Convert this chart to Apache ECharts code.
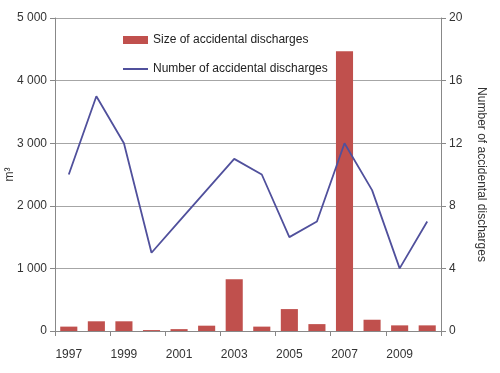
<!DOCTYPE html>
<html><head><meta charset="utf-8">
<script src="https://cdn.jsdelivr.net/npm/echarts@6/dist/echarts.min.js"></script>
<style>html,body{margin:0;padding:0;background:#fff}#c{width:500px;height:373px}</style>
</head><body><div id="c"></div>
<script>
const years = ['1997','1998','1999','2000','2001','2002','2003','2004','2005','2006','2007','2008','2009','2010'];
const sizeValues = [70,155,155,15,30,85,825,70,350,110,4470,180,90,90];
const countValues = [10,15,12,5,7,9,11,10,6,7,12,9,4,7];
const leftTicks = [0,1000,2000,3000,4000,5000];
const rightTicks = [0,4,8,12,16,20];

const chart = echarts.init(document.getElementById('c'));
const font = 'Liberation Sans, Arial, sans-serif';
chart.setOption({
  animation:false,
  textStyle:{fontFamily:font},
  grid:{left:55,right:59,top:18,bottom:42,containLabel:false,outerBoundsMode:'none'},
  legend:{
    orient:'vertical', left:118, top:29, itemWidth:25, itemHeight:8, itemGap:17,
    textStyle:{fontSize:12,color:'#222',fontFamily:font},
    data:[{name:'Size of accidental discharges',icon:'rect'},
          {name:'Number of accidental discharges',icon:'path://M0,0H100V8H0Z'}]
  },
  xAxis:{
    type:'category', data:years, boundaryGap:true,
    axisLine:{lineStyle:{color:'#888'}},
    axisTick:{show:true,length:5,lineStyle:{color:'#888'}},
    axisLabel:{interval:1,fontSize:12,color:'#333',margin:18}
  },
  yAxis:[{
    type:'value', min:0, max:5000, interval:1000,
    name:'m\u00B3', nameLocation:'middle', nameRotate:90, nameGap:39, nameMoveOverlap:false,
    nameTextStyle:{fontSize:12,color:'#333'},
    axisLine:{show:true,lineStyle:{color:'#888'}},
    axisTick:{show:true,length:5,lineStyle:{color:'#888'}},
    axisLabel:{fontSize:12,color:'#333',formatter:v=>String(v).replace(/\B(?=(\d{3})+(?!\d))/g,' ')},
    splitLine:{lineStyle:{color:'#a6a6a6'}}
  },{
    type:'value', min:0, max:20, interval:4, position:'right',
    name:'Number of accidental discharges', nameLocation:'middle', nameRotate:-90, nameGap:34, nameMoveOverlap:false,
    nameTextStyle:{fontSize:12,color:'#333'},
    axisLine:{show:true,lineStyle:{color:'#888'}},
    axisTick:{show:true,length:5,lineStyle:{color:'#888'}},
    axisLabel:{fontSize:12,color:'#333',margin:8},
    splitLine:{show:false}
  }],
  series:[{
    name:'Size of accidental discharges', type:'bar', data:sizeValues, yAxisIndex:0,
    barWidth:'62%', itemStyle:{color:'#C0504D'}
  },{
    name:'Number of accidental discharges', type:'line', data:countValues, yAxisIndex:1,
    symbol:'none', lineStyle:{color:'#50509C',width:1.8}, itemStyle:{color:'#50509C'}
  }]
});
</script></body></html>
